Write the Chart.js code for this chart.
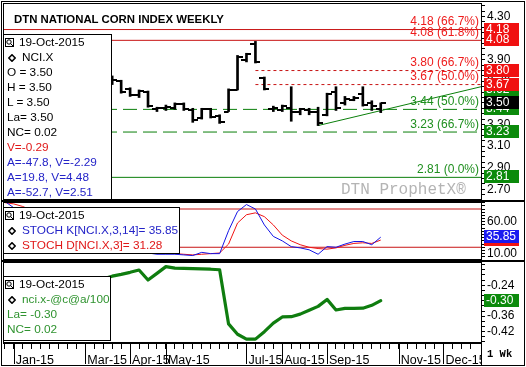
<!DOCTYPE html>
<html lang="ko">
<head>
<meta charset="utf-8">
<title>DTN National Corn Index Weekly</title>
<script src="https://cdn.jsdelivr.net/npm/chart.js@4.4.1/dist/chart.umd.min.js"></script>
<style>
  body { margin: 0; background: #fff; }
  #wrap { position: relative; width: 526px; height: 367px; overflow: hidden; font-family: "Liberation Sans", Arial, sans-serif; }
  #wrap canvas { position: absolute; left: 3px; }
  .frame { position: absolute; left: 1px; top: 1px; width: 524px; height: 365px; border: 1px solid #000; box-sizing: border-box; }
  .sep { position: absolute; left: 1px; width: 524px; height: 2px; background: #000; }
  .vline { position: absolute; left: 481px; top: 343px; width: 1px; height: 23px; background: #000; }
  .title { position: absolute; left: 14px; top: 13px; font: bold 11.4px "Liberation Sans", Arial, sans-serif; color: #000; }
  .mark { position: absolute; left: 341px; top: 181px; font: 16px "Liberation Mono", "DejaVu Sans Mono", monospace; color: #b4b4b4; }
  .wk { position: absolute; left: 482px; top: 344px; width: 42px; height: 21px; background: #fff; font: bold 10.5px "Liberation Mono", monospace; line-height: 21px; padding-left: 5px; box-sizing: border-box; }
  .box { position: absolute; left: 3px; background: #fff; border: 1px solid #000; box-sizing: border-box; font-size: 11.8px; line-height: 15px; padding-left: 3px; white-space: nowrap; overflow: hidden; color: #000; }
  .box svg { vertical-align: -1px; }
  .ico { margin-left: -2px; margin-right: 5px; }
  .dia { margin-left: 1px; margin-right: 6px; }
  .red { color: #e01818; }
  .blue { color: #2424c8; }
  .green { color: #2f932f; }
</style>
</head>
<body>
<div id="wrap">
  <canvas id="priceChart" width="523" height="197" style="top:3px"></canvas>
  <canvas id="stochChart" width="523" height="58" style="top:202px"></canvas>
  <canvas id="spreadChart" width="523" height="104" style="top:262px"></canvas>

  <div class="sep" style="top:200px"></div>
  <div class="sep" style="top:260px"></div>
  <div class="vline"></div>
  <div class="frame"></div>

  <div class="title">DTN NATIONAL CORN INDEX WEEKLY</div>
  <div class="mark">DTN ProphetX®</div>
  <div class="wk">1 Wk</div>

  <div class="box" style="top:34px;width:109px;height:166px">
    <div><svg class="ico" width="9" height="9"><rect x="0.5" y="0.5" width="8" height="8" fill="none" stroke="#000"/><circle cx="4" cy="4" r="2.2" fill="none" stroke="#000"/><path d="M5.5 5.5L8 8" stroke="#000"/></svg>19-Oct-2015</div>
    <div><svg class="dia" width="8" height="8"><path d="M4 0.8L7.2 4L4 7.2L0.8 4Z" fill="none" stroke="#000" stroke-width="1.6"/></svg>NCI.X</div>
    <div>O = 3.50</div>
    <div>H = 3.50</div>
    <div>L = 3.50</div>
    <div>La= 3.50</div>
    <div>NC= 0.02</div>
    <div class="red">V=-0.29</div>
    <div class="blue">A=-47.8, V=-2.29</div>
    <div class="blue">A=19.8, V=4.48</div>
    <div class="blue">A=-52.7, V=2.51</div>
  </div>

  <div class="box" style="top:207px;width:177px;height:47px">
    <div><svg class="ico" width="9" height="9"><rect x="0.5" y="0.5" width="8" height="8" fill="none" stroke="#000"/><circle cx="4" cy="4" r="2.2" fill="none" stroke="#000"/><path d="M5.5 5.5L8 8" stroke="#000"/></svg>19-Oct-2015</div>
    <div class="blue"><svg class="dia" width="8" height="8"><path d="M4 0.8L7.2 4L4 7.2L0.8 4Z" fill="none" stroke="#000" stroke-width="1.6"/></svg>STOCH K[NCI.X,3,14]= 35.85</div>
    <div class="red"><svg class="dia" width="8" height="8"><path d="M4 0.8L7.2 4L4 7.2L0.8 4Z" fill="none" stroke="#000" stroke-width="1.6"/></svg>STOCH D[NCI.X,3]= 31.28</div>
  </div>

  <div class="box" style="top:276px;width:108px;height:65px">
    <div><svg class="ico" width="9" height="9"><rect x="0.5" y="0.5" width="8" height="8" fill="none" stroke="#000"/><circle cx="4" cy="4" r="2.2" fill="none" stroke="#000"/><path d="M5.5 5.5L8 8" stroke="#000"/></svg>19-Oct-2015</div>
    <div class="green"><svg class="dia" width="8" height="8"><path d="M4 0.8L7.2 4L4 7.2L0.8 4Z" fill="none" stroke="#000" stroke-width="1.6"/></svg>nci.x-@c@a/100</div>
    <div class="green">La= -0.30</div>
    <div class="green">NC= 0.02</div>
  </div>
</div>

<script>
// 주차 인덱스: 0 = 2015-01-05 주 (월요일 기준), 1칸 = 1주
const weekMin = -1.2;
const weekMax = 52.2;

// x축 월 라벨 (해당 월 첫 주)
const monthWeeks = [0, 8, 13, 17, 26, 30, 35, 43, 48];
const monthLabels = ['Jan-15', 'Mar-15', 'Apr-15', 'May-15', 'Jul-15', 'Aug-15', 'Sep-15', 'Nov-15', 'Dec-15'];

// 주간 OHLC (NCI.X)
const barWeeks = [11, 12, 13, 14, 15, 16, 17, 18, 19, 20, 21, 22, 23, 24, 25, 26, 27, 28, 29, 30, 31, 32, 33, 34, 35, 36, 37, 38, 39, 40, 41];
const opens  = [3.72, 3.70, 3.63, 3.57, 3.60, 3.44, 3.45, 3.45, 3.49, 3.43, 3.36, 3.44, 3.38, 3.42, 3.62, 3.90, 4.05, 3.73, 3.44, 3.43, 3.45, 3.42, 3.43, 3.42, 3.39, 3.60, 3.50, 3.53, 3.58, 3.50, 3.44];
const highs  = [3.75, 3.71, 3.64, 3.62, 3.61, 3.46, 3.48, 3.50, 3.50, 3.45, 3.45, 3.45, 3.39, 3.63, 3.94, 3.96, 4.07, 3.74, 3.47, 3.48, 3.65, 3.45, 3.45, 3.46, 3.59, 3.65, 3.56, 3.56, 3.65, 3.52, 3.50];
const lows   = [3.67, 3.59, 3.56, 3.55, 3.46, 3.42, 3.43, 3.44, 3.43, 3.32, 3.35, 3.36, 3.31, 3.42, 3.62, 3.88, 3.87, 3.62, 3.42, 3.42, 3.33, 3.39, 3.39, 3.29, 3.38, 3.43, 3.48, 3.52, 3.47, 3.43, 3.41];
const closes = [3.71, 3.60, 3.57, 3.61, 3.47, 3.45, 3.46, 3.49, 3.44, 3.34, 3.44, 3.37, 3.32, 3.62, 3.93, 3.95, 3.88, 3.63, 3.45, 3.47, 3.42, 3.44, 3.42, 3.31, 3.58, 3.45, 3.54, 3.55, 3.48, 3.47, 3.50];

// 피보나치 되돌림 레벨
const fibLevels = [4.18, 4.08, 3.80, 3.67, 3.44, 3.23, 2.81];
const fibPercents = ['66.7%', '61.8%', '66.7%', '50.0%', '50.0%', '66.7%', '0.0%'];
const fibStartWeeks = [-1.2, -1.2, 27, 27, -1.2, -1.2, -1.2];

// 추세선
const trendWeeks = [34, 52.2];
const trendValues = [3.29, 3.65];
const trendLabelValue = 3.62;

// 스토캐스틱 (주간)
const stochWeeks = [-1, 0, 1, 2, 3, 4, 5, 6, 7, 8, 9, 10, 11, 12, 13, 14, 15, 16, 17, 18, 19, 20, 21, 22, 23, 24, 25, 26, 27, 28, 29, 30, 31, 32, 33, 34, 35, 36, 37, 38, 39, 40, 41];
const stochK = [92, 82, 72, 64, 57, 51, 47, 43, 39, 35, 31, 28, 25, 21, 17, 14, 11, 9, 9, 9, 8, 7, 12, 10, 10, 46, 76, 87, 80, 55, 37, 30, 21, 19, 16, 9, 21, 20, 25, 29, 29, 24, 35.85];
const stochD = [90, 88, 84, 78, 71, 64, 57, 52, 47, 43, 39, 35, 31, 28, 24, 20, 17, 14, 11, 10, 9, 8, 9, 10, 11, 25, 58, 71, 74, 68, 55, 39, 30, 24, 20, 18, 17, 19, 23, 26, 27, 26, 31.28];
const stochBands = [80, 20];

// 스프레드 nci.x-@c@a/100
const spreadWeeks = [10, 11, 12, 13, 14, 15, 16, 17, 18, 19, 20, 21, 22, 23, 24, 25, 26, 27, 28, 29, 30, 31, 32, 33, 34, 35, 36, 37, 38, 39, 40, 41];
const spreadValues = [-0.215, -0.205, -0.198, -0.19, -0.181, -0.22, -0.194, -0.168, -0.174, -0.175, -0.176, -0.177, -0.178, -0.18, -0.39, -0.43, -0.449, -0.449, -0.42, -0.387, -0.363, -0.362, -0.352, -0.337, -0.322, -0.295, -0.336, -0.33, -0.33, -0.329, -0.318, -0.30];

// 색상
const RED_LINE = '#c81414';
const RED_TEXT = '#ee1c1c';
const GREEN_LINE = '#0a7f0a';
const GREEN_TEXT = '#1f8f1f';
const GREEN_BOX = '#0b8a0b';
const FONT = '"Liberation Sans", Arial, sans-serif';

Chart.defaults.font.family = FONT;
Chart.defaults.font.size = 12;
Chart.defaults.color = '#000';

// 차트 영역 테두리
const frameBorder = {
  id: 'frameBorder',
  afterDraw(chart) {
    const a = chart.chartArea;
    const ctx = chart.ctx;
    ctx.save();
    ctx.strokeStyle = '#000';
    ctx.lineWidth = 1;
    ctx.strokeRect(a.left + 0.5, a.top + 0.5, a.right - a.left, a.bottom - a.top - 1);
    ctx.restore();
  }
};

// 오른쪽 축 값 박스
function valueBoxes(items) {
  return {
    id: 'valueBoxes',
    afterDraw(chart) {
      const y = chart.scales.y;
      const ctx = chart.ctx;
      ctx.save();
      ctx.font = '12px ' + FONT;
      ctx.textBaseline = 'middle';
      items.forEach(b => {
        const py = Math.round(y.getPixelForValue(b.value));
        ctx.fillStyle = b.color;
        ctx.fillRect(y.left + 3, py - 7, 35, 13);
        ctx.fillStyle = '#fff';
        ctx.fillText(b.text, y.left + 5, py);
      });
      ctx.restore();
    }
  };
}

// 피보나치 레벨 라벨
const fibText = {
  id: 'fibText',
  afterDatasetsDraw(chart) {
    const x = chart.scales.x;
    const y = chart.scales.y;
    const ctx = chart.ctx;
    ctx.save();
    ctx.font = '12px ' + FONT;
    ctx.textAlign = 'right';
    ctx.textBaseline = 'middle';
    fibLevels.forEach((v, i) => {
      ctx.fillStyle = i < 4 ? RED_TEXT : GREEN_TEXT;
      ctx.fillText(v.toFixed(2) + ' (' + fibPercents[i] + ')', x.right - 2, y.getPixelForValue(v) - 7.5);
    });
    ctx.restore();
  }
};

// x축 월 구분선
const monthLines = {
  id: 'monthLines',
  afterDraw(chart) {
    const x = chart.scales.x;
    const ctx = chart.ctx;
    ctx.save();
    ctx.strokeStyle = '#000';
    ctx.lineWidth = 1;
    monthWeeks.forEach(w => {
      const px = Math.round(x.getPixelForValue(w)) + 0.5;
      ctx.beginPath();
      ctx.moveTo(px, x.top);
      ctx.lineTo(px, x.top + 21);
      ctx.stroke();
    });
    ctx.restore();
  }
};

// OHLC 시가/종가 눈금 이미지
function tickImage(side) {
  const c = document.createElement('canvas');
  c.width = 10;
  c.height = 2;
  const g = c.getContext('2d');
  g.fillStyle = '#000';
  g.fillRect(side === 'left' ? 0 : 5, 0, 5, 2);
  return c;
}

// 축 라벨 때문에 생기는 여백 제거
function noPad(s) {
  s.paddingTop = 0;
  s.paddingBottom = 0;
  s.paddingLeft = 0;
  s.paddingRight = 0;
}

function rightAxis(min, max, tickValues, labelFn) {
  return {
    position: 'right',
    min: min,
    max: max,
    afterFit: s => { s.width = 45; noPad(s); },
    afterBuildTicks: s => { s.ticks = tickValues.map(v => ({ value: v })); },
    ticks: { autoSkip: false, padding: 2, callback: labelFn, font: { size: 12 } },
    grid: { drawOnChartArea: false, tickLength: 4, color: '#000' },
    border: { color: '#000' }
  };
}

function range(from, to, step) {
  const out = [];
  for (let v = from; v <= to + 1e-9; v += step) out.push(Math.round(v * 1000) / 1000);
  return out;
}

const hiddenX = { type: 'linear', min: weekMin, max: weekMax, display: false, offset: false };
const baseOptions = {
  responsive: false,
  animation: false,
  layout: { padding: 0, autoPadding: false },
  plugins: { legend: { display: false }, tooltip: { enabled: false } },
  events: []
};

function levelLine(v, i) {
  const solid = i === 0 || i === 1 || i === 6;
  const dotted = i === 2 || i === 3;
  return {
    type: 'line',
    data: [{ x: fibStartWeeks[i], y: v }, { x: weekMax, y: v }],
    borderColor: i < 4 ? RED_LINE : GREEN_LINE,
    borderWidth: 1,
    borderDash: solid ? [] : (dotted ? [3, 3] : [14, 6]),
    pointRadius: 0
  };
}

// 가격 패널
new Chart(document.getElementById('priceChart'), {
  type: 'bar',
  data: {
    datasets: [
      {
        type: 'scatter',
        data: barWeeks.map((w, i) => ({ x: w, y: opens[i] })),
        pointStyle: tickImage('left'),
        pointRadius: 3
      },
      {
        type: 'scatter',
        data: barWeeks.map((w, i) => ({ x: w, y: closes[i] })),
        pointStyle: tickImage('right'),
        pointRadius: 3
      },
      {
        type: 'bar',
        data: barWeeks.map((w, i) => ({ x: w, y: [lows[i], highs[i]] })),
        backgroundColor: '#000',
        borderWidth: 0,
        barThickness: 2,
        grouped: false
      },
      {
        type: 'line',
        data: trendWeeks.map((w, i) => ({ x: w, y: trendValues[i] })),
        borderColor: GREEN_LINE,
        borderWidth: 1,
        pointRadius: 0
      },
      ...fibLevels.map(levelLine)
    ]
  },
  options: {
    ...baseOptions,
    scales: {
      x: hiddenX,
      y: rightAxis(2.60, 4.426, range(2.65, 4.40, 0.05),
        v => (Math.round(v * 100) % 20 === 10 ? v.toFixed(2) : ''))
    }
  },
  plugins: [fibText, frameBorder, valueBoxes([
    { value: trendLabelValue, color: GREEN_BOX, text: trendLabelValue.toFixed(2) },
    { value: fibLevels[4], color: GREEN_BOX, text: fibLevels[4].toFixed(2) },
    { value: fibLevels[5], color: GREEN_BOX, text: fibLevels[5].toFixed(2) },
    { value: fibLevels[6], color: GREEN_BOX, text: fibLevels[6].toFixed(2) },
    { value: fibLevels[0], color: '#f01010', text: fibLevels[0].toFixed(2) },
    { value: fibLevels[1], color: '#f01010', text: fibLevels[1].toFixed(2) },
    { value: fibLevels[2], color: '#f01010', text: fibLevels[2].toFixed(2) },
    { value: fibLevels[3], color: '#f01010', text: fibLevels[3].toFixed(2) },
    { value: closes[closes.length - 1], color: '#000', text: closes[closes.length - 1].toFixed(2) }
  ])]
});

// 스토캐스틱 패널
new Chart(document.getElementById('stochChart'), {
  type: 'line',
  data: {
    datasets: [
      {
        data: stochWeeks.map((w, i) => ({ x: w, y: stochK[i] })),
        borderColor: '#1414e6',
        borderWidth: 1,
        pointRadius: 0
      },
      {
        data: stochWeeks.map((w, i) => ({ x: w, y: stochD[i] })),
        borderColor: '#f01414',
        borderWidth: 1,
        pointRadius: 0
      },
      ...stochBands.map(b => ({
        data: [{ x: weekMin, y: b }, { x: weekMax, y: b }],
        borderColor: RED_LINE,
        borderWidth: 1,
        pointRadius: 0
      }))
    ]
  },
  options: {
    ...baseOptions,
    scales: {
      x: hiddenX,
      y: rightAxis(0, 91, range(0, 90, 5),
        v => (v === 10 || v === 60 ? v.toFixed(2) : ''))
    }
  },
  plugins: [frameBorder, valueBoxes([
    { value: stochD[stochD.length - 1], color: '#f01414', text: stochD[stochD.length - 1].toFixed(2) },
    { value: stochK[stochK.length - 1], color: '#1a1af0', text: stochK[stochK.length - 1].toFixed(2) }
  ])]
});

// 스프레드 패널 + x축
new Chart(document.getElementById('spreadChart'), {
  type: 'line',
  data: {
    datasets: [{
      data: spreadWeeks.map((w, i) => ({ x: w, y: spreadValues[i] })),
      borderColor: '#0f7d0f',
      borderWidth: 3.2,
      borderJoinStyle: 'round',
      borderCapStyle: 'round',
      pointRadius: 0
    }]
  },
  options: {
    ...baseOptions,
    scales: {
      x: {
        type: 'linear',
        min: weekMin,
        max: weekMax,
        offset: false,
        afterFit: s => { s.height = 23; noPad(s); },
        afterBuildTicks: s => { s.ticks = range(-1, 51, 1).map(v => ({ value: v })); },
        ticks: {
          autoSkip: false,
          maxRotation: 0,
          align: 'start',
          labelOffset: 2,
          padding: 4,
          font: { size: 12.5 },
          callback: v => {
            const k = monthWeeks.indexOf(v);
            return k >= 0 ? monthLabels[k] : '';
          }
        },
        grid: { drawOnChartArea: false, tickLength: 6, color: '#000' },
        border: { color: '#000' }
      },
      y: rightAxis(-0.464, -0.150, range(-0.46, -0.16, 0.02),
        v => ([-0.24, -0.3, -0.36, -0.42].includes(Math.round(v * 100) / 100) ? v.toFixed(2) : ''))
    }
  },
  plugins: [frameBorder, monthLines, valueBoxes([
    { value: spreadValues[spreadValues.length - 1], color: GREEN_BOX, text: spreadValues[spreadValues.length - 1].toFixed(2) }
  ])]
});
</script>
</body>
</html>
